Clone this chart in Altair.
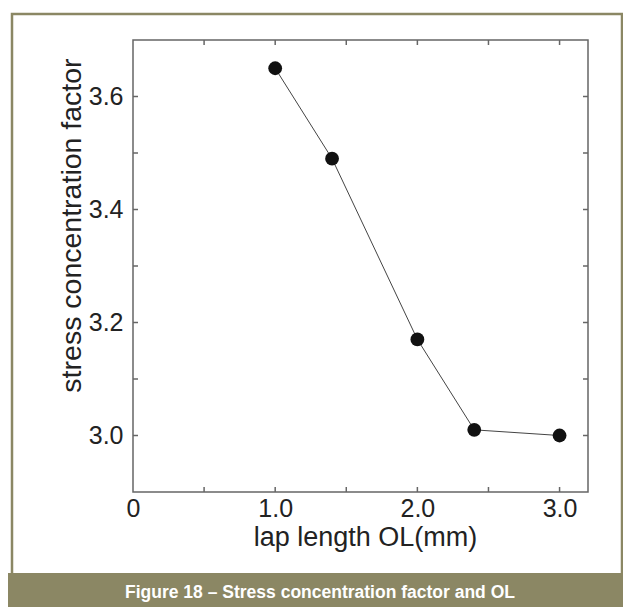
import altair as alt
import pandas as pd

# data
lap_length = [1.0, 1.4, 2.0, 2.4, 3.0]
stress_factor = [3.65, 3.49, 3.17, 3.01, 3.00]
x_tick_values = [0.5, 1.0, 1.5, 2.0, 2.5, 3.0]
y_tick_values = [3.0, 3.1, 3.2, 3.3, 3.4, 3.5, 3.6]
x_label_values = [0, 1, 2, 3]
y_label_values = [3.0, 3.2, 3.4, 3.6]
x_title = "lap length OL(mm)"
y_title = "stress concentration factor"
caption = ["Figure 18 \u2013 Stress concentration factor and OL"]

W, H = 455, 452
FONT = "Liberation Sans"
OLIVE = "#8b8764"
TICK = "#666666"

df = pd.DataFrame({"ol": lap_length, "scf": stress_factor})
xt = pd.DataFrame({"ol": x_tick_values})
yt = pd.DataFrame({"scf": y_tick_values})
cap = pd.DataFrame({"t": caption})

xs = alt.Scale(domain=[0, 3.2], nice=False, zero=False)
ys = alt.Scale(domain=[2.9, 3.7], nice=False, zero=False)

x_axis = alt.Axis(
    values=x_label_values,
    labelExpr="datum.value == 0 ? '0' : format(datum.value, '.1f')",
    title=x_title, domain=False, ticks=False, tickSize=0, grid=False, zindex=2,
    labelFont=FONT, labelFontSize=25, labelColor="#222222", labelPadding=4,
    labelFlush=False,
    titleFont=FONT, titleFontSize=27, titleFontWeight="normal", titleColor="#222222",
    titleX=232, titleY=53, titleAlign="center", titleBaseline="alphabetic",
)
y_axis = alt.Axis(
    values=y_label_values, format=".1f",
    title=y_title, domain=False, ticks=False, tickSize=0, grid=False, zindex=2,
    labelFont=FONT, labelFontSize=25, labelColor="#222222", labelPadding=10,
    labelFlush=False,
    titleFont=FONT, titleFontSize=28.5, titleFontWeight="normal", titleColor="#222222",
    titleX=-53, titleY=185, titleAlign="center", titleBaseline="alphabetic", titleAngle=270,
)

def X(f):
    return alt.X(f, type="quantitative", scale=xs, axis=x_axis)

def Y(f):
    return alt.Y(f, type="quantitative", scale=ys, axis=y_axis)

# frame and caption bar
frame = alt.Chart(cap).mark_rect(fill=None, fillOpacity=0, stroke=OLIVE, strokeWidth=2.5).encode(
    x=alt.value(-121), x2=alt.value(489), y=alt.value(-26), y2=alt.value(540)
)
bar = alt.Chart(cap).mark_rect(fill=OLIVE, stroke=None).encode(
    x=alt.value(-125), x2=alt.value(495), y=alt.value(533), y2=alt.value(570)
)
caption_text = alt.Chart(cap).mark_text(
    font=FONT, fontSize=17.5, fontWeight="bold", color="white",
    align="center", baseline="alphabetic"
).encode(x=alt.value(187), y=alt.value(558), text="t:N")

line = alt.Chart(df).mark_line(color="#444444", strokeWidth=1).encode(
    x=X("ol"), y=Y("scf"),
)
points = alt.Chart(df).mark_circle(size=190, color="#111111", opacity=1).encode(
    x=X("ol"), y=Y("scf"),
)

tick_bottom = alt.Chart(xt).mark_rule(color=TICK, strokeWidth=1.5).encode(
    x=X("ol"), y=alt.value(H), y2=alt.value(H - 5)
)
tick_top = alt.Chart(xt).mark_rule(color=TICK, strokeWidth=1.5).encode(
    x=X("ol"), y=alt.value(0), y2=alt.value(5)
)
tick_left = alt.Chart(yt).mark_rule(color=TICK, strokeWidth=1.5).encode(
    y=Y("scf"), x=alt.value(0), x2=alt.value(5)
)
tick_right = alt.Chart(yt).mark_rule(color=TICK, strokeWidth=1.5).encode(
    y=Y("scf"), x=alt.value(W), x2=alt.value(W - 5)
)

chart = alt.layer(
    frame, bar, caption_text, line, points, tick_bottom, tick_top, tick_left, tick_right
).properties(
    width=W, height=H,
    padding={"left": 125, "top": 32, "right": 35, "bottom": 115},
    autosize=alt.AutoSizeParams(type="none"),
    background="white",
).configure_view(
    stroke="#666666", strokeWidth=1.5
)

chart.save("out.html", embed_options={"renderer": "svg", "actions": False})
